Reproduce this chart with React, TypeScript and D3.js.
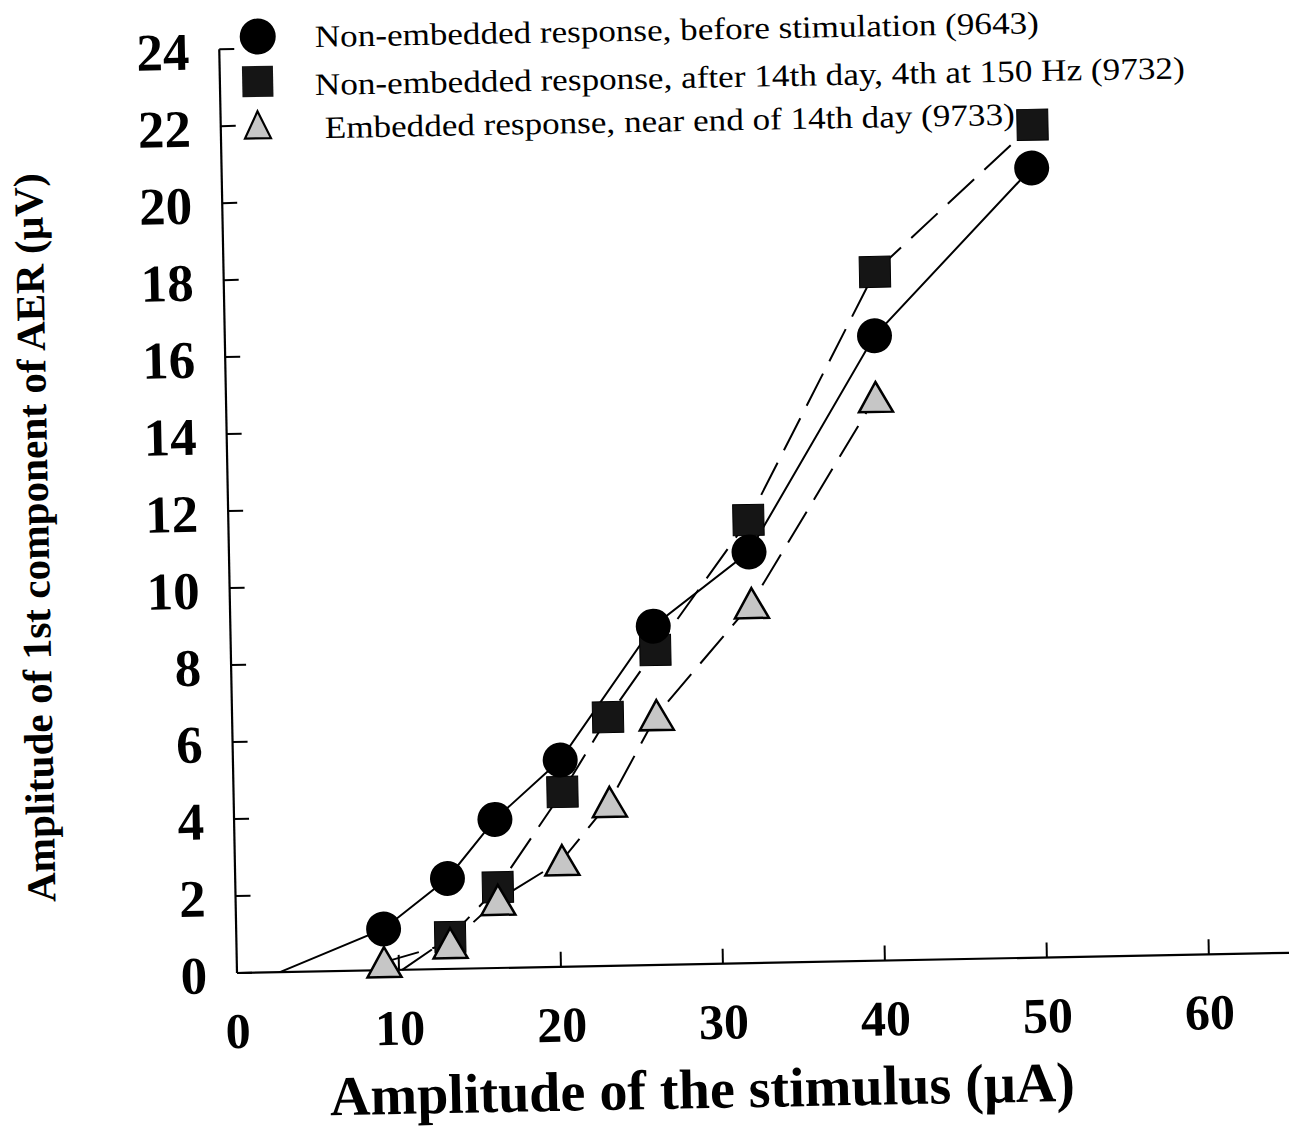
import React from "react";
import * as d3 from "d3";

// ---- data ----
const xTicks = [10, 20, 30, 40, 50, 60];
const xTickLabels = ["0", "10", "20", "30", "40", "50", "60"];
const yTicks = [0, 2, 4, 6, 8, 10, 12, 14, 16, 18, 20, 22, 24];

const circleX = [9.1, 13.1, 16.1, 20.2, 26.1, 32.1, 40.1, 50.0];
const circleY = [1.07, 2.35, 3.86, 5.37, 8.8, 10.68, 16.23, 20.51];
const circleLineStart = [2.65, 0];

const squareX = [13.2, 16.2, 20.3, 23.2, 26.2, 32.1, 40.2, 50.1];
const squareY = [0.83, 2.1, 4.54, 6.46, 8.18, 11.51, 17.89, 21.63];
const squareLineStart = [10.2, 0];

const triangleX = [9.1, 13.2, 16.2, 20.2, 23.2, 26.2, 32.2, 40.1];
const triangleY = [0.21, 0.67, 1.77, 2.77, 4.26, 6.49, 9.35, 14.64];

const legendLabels = [
  "Non-embedded response, before stimulation (9643)",
  "Non-embedded response, after 14th day, 4th at 150 Hz (9732)",
  "Embedded response, near end of 14th day (9733)",
];
const xTitle = "Amplitude of the stimulus (\u03bcA)";
const yTitle = "Amplitude of 1st component of AER (\u03bcV)";

// ---- layout ----
const W = 1289;
const H = 1129;
const OX = 237;
const OY = 973;
const TILT = -1.1;
const SERIF = "'Liberation Serif', 'Times New Roman', Times, serif";

export default function App() {
  const x = d3.scaleLinear().domain([0, 65]).range([OX, OX + 65 * 16.2]);
  const y = d3.scaleLinear().domain([0, 24]).range([OY, OY - 24 * 38.5]);

  const line = d3
    .line<[number, number]>()
    .x((d) => x(d[0]))
    .y((d) => y(d[1]));

  const circlePts: [number, number][] = [
    [circleLineStart[0], circleLineStart[1]],
    ...circleX.map((v, i) => [v, circleY[i]] as [number, number]),
  ];
  const squarePts: [number, number][] = [
    [squareLineStart[0], squareLineStart[1]],
    ...squareX.map((v, i) => [v, squareY[i]] as [number, number]),
  ];
  const trianglePts: [number, number][] = triangleX.map(
    (v, i) => [v, triangleY[i]] as [number, number]
  );

  const tri = (cx: number, cy: number, w: number, h: number) =>
    `M${cx},${cy - h / 2} L${cx + w / 2},${cy + h / 2} L${cx - w / 2},${cy + h / 2} Z`;

  const sq = 31;
  const triFill = "#c6c6c6";
  const sqFill = "#151515";

  return (
    <svg
      width={W}
      height={H}
      viewBox={`0 0 ${W} ${H}`}
      style={{ position: "absolute", left: 0, top: 0, background: "#fff" }}
    >
      <rect x={0} y={0} width={W} height={H} fill="#fff" />
      <g transform={`rotate(${TILT}, ${OX}, ${OY})`}>
        {/* axes */}
        <line x1={x(0)} y1={y(0)} x2={x(65)} y2={y(0)} stroke="#000" strokeWidth={2.2} />
        <line x1={x(0)} y1={y(0)} x2={x(0)} y2={y(24)} stroke="#000" strokeWidth={2.2} />
        {xTicks.map((t) => (
          <line key={"xt" + t} x1={x(t)} x2={x(t)} y1={y(0)} y2={y(0) - 15} stroke="#000" strokeWidth={2} />
        ))}
        {yTicks.map((t) => (
          <line key={"yt" + t} x1={x(0)} x2={x(0) + 15} y1={y(t)} y2={y(t)} stroke="#000" strokeWidth={2} />
        ))}
        {xTickLabels.map((lab, i) => (
          <text
            key={"xl" + lab}
            x={x(i * 10)}
            y={y(0) + 75}
            textAnchor="middle"
            fontFamily={SERIF}
            fontWeight="bold"
            fontSize={50}
          >
            {lab}
          </text>
        ))}
        {yTicks.map((t) => (
          <text
            key={"yl" + t}
            x={x(0) - 30}
            y={y(t) + 20}
            textAnchor="end"
            fontFamily={SERIF}
            fontWeight="bold"
            fontSize={53}
          >
            {t}
          </text>
        ))}

        {/* axis titles */}
        <text
          x={700}
          y={1117}
          textAnchor="middle"
          fontFamily={SERIF}
          fontWeight="bold"
          fontSize={56}
          textLength={745}
          lengthAdjust="spacingAndGlyphs"
        >
          {xTitle}
        </text>
        <text
          transform="translate(57, 534) rotate(-90)"
          textAnchor="middle"
          fontFamily={SERIF}
          fontWeight="bold"
          fontSize={41}
          textLength={729}
          lengthAdjust="spacingAndGlyphs"
        >
          {yTitle}
        </text>

        {/* lines */}
        <path d={line(squarePts) || ""} fill="none" stroke="#000" strokeWidth={2} strokeDasharray="36 14" />
        <path d={line(trianglePts) || ""} fill="none" stroke="#000" strokeWidth={2} strokeDasharray="36 14" />
        <path d={line(circlePts) || ""} fill="none" stroke="#000" strokeWidth={2} />

        {/* markers */}
        {squareX.map((v, i) => (
          <rect
            key={"s" + i}
            x={x(v) - sq / 2}
            y={y(squareY[i]) - sq / 2}
            width={sq}
            height={sq}
            fill={sqFill}
            stroke="#000"
            strokeWidth={1}
          />
        ))}
        {circleX.map((v, i) => (
          <circle key={"c" + i} cx={x(v)} cy={y(circleY[i])} r={17.5} fill="#000" />
        ))}
        {triangleX.map((v, i) => (
          <path
            key={"t" + i}
            d={tri(x(v), y(triangleY[i]), 34, 30)}
            fill={triFill}
            stroke="#000"
            strokeWidth={2.5}
            strokeLinejoin="miter"
          />
        ))}

        {/* legend */}
        <circle cx={275.7} cy={37.1} r={18} fill="#000" />
        <rect x={274.8 - 15.5} y={82.1 - 15.5} width={31} height={31} fill={sqFill} />
        <path d={tri(274, 125.4, 26, 27)} fill={triFill} stroke="#000" strokeWidth={2.2} />
        <text x={332.8} y={48.7} fontFamily={SERIF} fontSize={31} textLength={724} lengthAdjust="spacingAndGlyphs">
          {legendLabels[0]}
        </text>
        <text x={331.9} y={96.7} fontFamily={SERIF} fontSize={31} textLength={870} lengthAdjust="spacingAndGlyphs">
          {legendLabels[1]}
        </text>
        <text x={341} y={139.9} fontFamily={SERIF} fontSize={31} textLength={690} lengthAdjust="spacingAndGlyphs">
          {legendLabels[2]}
        </text>
      </g>
    </svg>
  );
}
